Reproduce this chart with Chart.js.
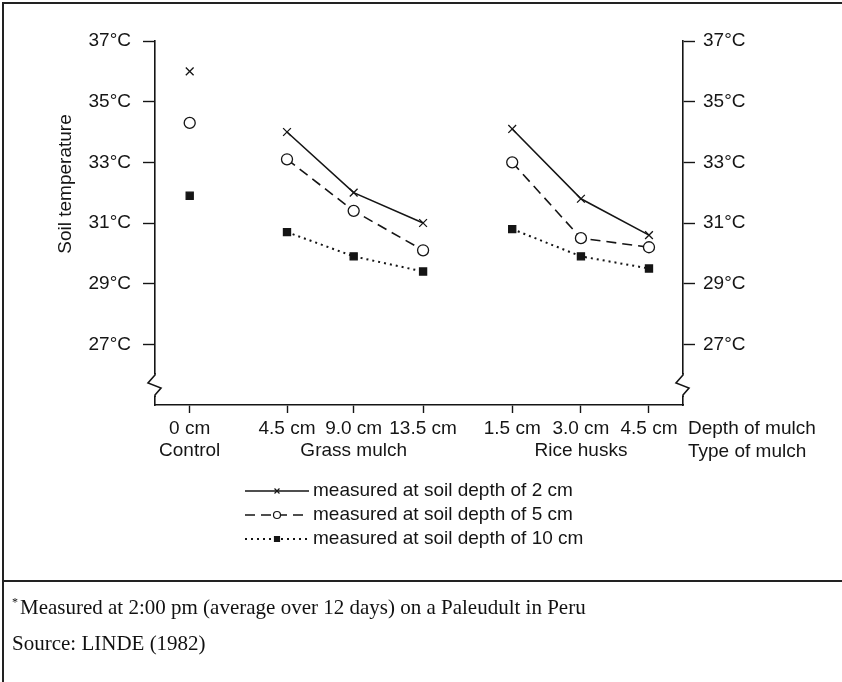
<!DOCTYPE html>
<html>
<head>
<meta charset="utf-8">
<script src="https://cdn.jsdelivr.net/npm/chart.js@4/dist/chart.umd.min.js"></script>
<style>
  body { margin: 0; background: #fff; }
  #page { position: relative; width: 842px; height: 682px; overflow: hidden; background: #fff; }
  #frame { position: absolute; left: 2px; top: 2px; right: -4px; bottom: -4px; border-top: 2px solid #222; border-left: 2px solid #222; }
  #sep { position: absolute; left: 2px; right: 0; top: 580px; height: 0; border-top: 2px solid #222; }
  #myChart { position: absolute; left: 0; top: 0; }
  .note { position: absolute; left: 12px; font-family: "Liberation Serif", "Times New Roman", serif; font-size: 21px; color: #111; white-space: nowrap; }
  .note sup { font-size: 12px; vertical-align: 8px; margin-right: 2px; }
</style>
</head>
<body>
<div id="page">
  <canvas id="myChart" width="842" height="580"></canvas>
  <div id="frame"></div>
  <div id="sep"></div>
  <div class="note" style="top:595px"><sup>*</sup>Measured at 2:00 pm (average over 12 days) on a Paleudult in Peru</div>
  <div class="note" style="top:631px">Source: LINDE (1982)</div>
</div>
<script>
// data
const depthLabels = ['0 cm', '4.5 cm', '9.0 cm', '13.5 cm', '1.5 cm', '3.0 cm', '4.5 cm']
const mulchTypes = ['Control', 'Grass mulch', 'Rice husks']
const groupOf = [0, 1, 1, 1, 2, 2, 2]
const soil2cm = [36.0, 34.0, 32.0, 31.0, 34.1, 31.8, 30.6]
const soil5cm = [34.3, 33.1, 31.4, 30.1, 33.0, 30.5, 30.2]
const soil10cm = [31.9, 30.7, 29.9, 29.4, 30.8, 29.9, 29.5]
const seriesNames = ['measured at soil depth of 2 cm', 'measured at soil depth of 5 cm', 'measured at soil depth of 10 cm']
const yTicks = [27, 29, 31, 33, 35, 37]

// layout: where each depth sits along the x axis, and which tick carries the mulch name
const slotPos = [0, 1.43, 2.41, 3.43, 4.74, 5.75, 6.75]
const typeAt = [0, 2, 5]

const ink = '#151515'
const font = "'Liberation Sans', Arial, sans-serif"

function toPoints(vals) {
  const pts = []
  vals.forEach((v, i) => {
    if (i > 0 && groupOf[i] !== groupOf[i - 1]) {
      pts.push({ x: (slotPos[i - 1] + slotPos[i]) / 2, y: null })
    }
    pts.push({ x: slotPos[i], y: v })
  })
  return pts
}

const styles = [
  { pointStyle: 'crossRot', pointRadius: 5.5, borderDash: [], backgroundColor: ink, borderWidth: 1.6 },
  { pointStyle: 'circle', pointRadius: 5.5, borderDash: [10, 6], backgroundColor: '#fff', borderWidth: 1.6 },
  { pointStyle: 'rect', pointRadius: 5, borderDash: [2, 4], backgroundColor: ink, borderWidth: 2 }
]

const extras = {
  id: 'extras',
  afterDraw(chart) {
    const c = chart.ctx
    const area = chart.chartArea
    c.save()

    // axis breaks
    ;[area.left, area.right].forEach(x => {
      const b = area.bottom
      c.fillStyle = '#fff'
      c.fillRect(x - 3, b - 31, 6, 22)
      c.strokeStyle = ink
      c.lineWidth = 1.6
      c.setLineDash([])
      c.beginPath()
      c.moveTo(x, b - 32)
      c.lineTo(x, b - 30)
      c.lineTo(x - 7, b - 22)
      c.lineTo(x + 6, b - 17)
      c.lineTo(x, b - 10)
      c.lineTo(x, b - 8)
      c.stroke()
    })

    c.fillStyle = ink
    c.font = '19px ' + font

    // y title
    c.save()
    c.translate(66, 184)
    c.rotate(-Math.PI / 2)
    c.textAlign = 'center'
    c.textBaseline = 'middle'
    c.fillText('Soil temperature', 0, 0)
    c.restore()

    // axis row names
    c.textAlign = 'left'
    c.textBaseline = 'middle'
    c.fillText('Depth of mulch', 688, 429)
    c.fillText('Type of mulch', 688, 452)

    // legend
    const rows = [491, 515, 539]
    chart.data.datasets.forEach((ds, i) => {
      const y = rows[i]
      c.setLineDash(ds.borderDash)
      c.lineWidth = ds.borderWidth
      c.strokeStyle = ink
      c.beginPath()
      c.moveTo(245, y)
      c.lineTo(309, y)
      c.stroke()
      c.setLineDash([])
      c.fillStyle = ds.pointBackgroundColor
      c.lineWidth = 1.2
      Chart.helpers.drawPoint(c, { pointStyle: ds.pointStyle, radius: 3.5, borderWidth: 1.2, rotation: 0 }, 277, y)
      c.fillStyle = ink
      c.fillText(seriesNames[i], 313, y)
    })
    c.restore()
  }
}

const ctx = document.getElementById('myChart')
new Chart(ctx, {
  type: 'line',
  data: {
    datasets: [soil2cm, soil5cm, soil10cm].map((vals, i) => ({
      label: seriesNames[i],
      data: toPoints(vals),
      borderColor: ink,
      borderWidth: styles[i].borderWidth,
      borderDash: styles[i].borderDash,
      pointStyle: styles[i].pointStyle,
      pointRadius: styles[i].pointRadius,
      pointBorderWidth: 1.3,
      pointBorderColor: ink,
      pointBackgroundColor: styles[i].backgroundColor,
      spanGaps: false,
      tension: 0,
      yAxisID: 'y'
    }))
  },
  options: {
    responsive: false,
    animation: false,
    layout: { padding: { top: 41, left: 0, right: 0, bottom: 0 } },
    plugins: { legend: { display: false }, tooltip: { enabled: false } },
    scales: {
      x: {
        type: 'linear',
        min: -0.51,
        max: 7.25,
        afterBuildTicks: s => { s.ticks = slotPos.map(v => ({ value: v })) },
        afterFit: s => { s.height = 175 },
        border: { color: ink, width: 1.6 },
        grid: { drawOnChartArea: false, tickLength: 8, tickColor: ink, tickWidth: 1.4 },
        ticks: {
          autoSkip: false,
          maxRotation: 0,
          padding: 4,
          color: ink,
          font: { family: font, size: 19 },
          callback: (v, i) => {
            const g = typeAt.indexOf(i)
            return g >= 0 ? [depthLabels[i], mulchTypes[g]] : depthLabels[i]
          }
        }
      },
      y: {
        position: 'left',
        min: 25,
        max: 37,
        afterBuildTicks: s => { s.ticks = yTicks.map(v => ({ value: v })) },
        afterFit: s => { s.width = 155 },
        border: { color: ink, width: 1.6 },
        grid: { drawOnChartArea: false, tickLength: 12, tickColor: ink, tickWidth: 1.4 },
        ticks: { padding: 12, color: ink, font: { family: font, size: 19 }, callback: v => v + '°C' }
      },
      y2: {
        position: 'right',
        min: 25,
        max: 37,
        afterBuildTicks: s => { s.ticks = yTicks.map(v => ({ value: v })) },
        afterFit: s => { s.width = 159 },
        border: { color: ink, width: 1.6 },
        grid: { drawOnChartArea: false, tickLength: 12, tickColor: ink, tickWidth: 1.4 },
        ticks: { padding: 8, color: ink, font: { family: font, size: 19 }, callback: v => v + '°C' }
      }
    }
  },
  plugins: [extras]
})
</script>
</body>
</html>
